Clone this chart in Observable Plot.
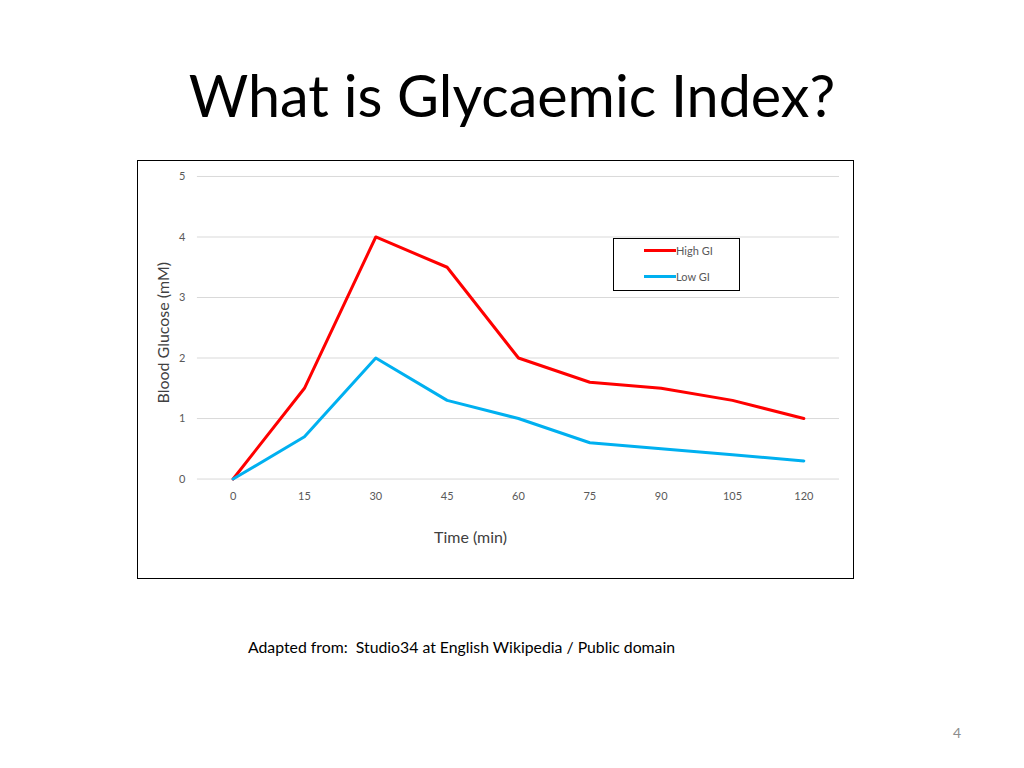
<!DOCTYPE html>
<html><head><meta charset="utf-8">
<script src="https://cdn.jsdelivr.net/npm/d3@7"></script>
<script src="https://cdn.jsdelivr.net/npm/@observablehq/plot@0.6"></script>
<style>
body{margin:0;background:#fff;font-family:Lato,"Open Sans",sans-serif;}
#page{position:relative;width:1024px;height:768px;overflow:hidden;}
#title{position:absolute;left:0;width:1024px;top:66px;text-align:center;font-size:57.5px;color:#000;line-height:1;}
#box{position:absolute;left:137px;top:160px;width:715px;height:417px;border:1px solid #000;}
#chart{position:absolute;left:-1px;top:-1px;}
#legend{position:absolute;left:475px;top:77px;width:125px;height:51px;border:1px solid #000;font-size:11px;color:#595959;}
.li{position:absolute;left:30px;height:12px;display:flex;align-items:center;}
.li span.sw{display:inline-block;width:32px;height:3px;margin-right:0px;}
#caption{position:absolute;left:248px;top:637px;font-size:15.8px;color:#000;}
#pnum{position:absolute;left:953px;top:724px;font-size:14px;color:#8c8c8c;}
</style></head>
<body><div id="page">
<div id="title">What is Glycaemic Index?</div>
<div id="box"><div id="chart"></div>
<div id="legend"></div></div>
<div id="caption">Adapted from:&nbsp; Studio34 at English Wikipedia / Public domain</div>
<div id="pnum">4</div>
</div>
<script>
const times = [0, 15, 30, 45, 60, 75, 90, 105, 120];
const highGI = [0, 1.5, 4, 3.5, 2, 1.6, 1.5, 1.3, 1.0];
const lowGI = [0, 0.7, 2, 1.3, 1.0, 0.6, 0.5, 0.4, 0.3];
const seriesNames = ["High GI", "Low GI"];
const seriesColors = ["#ff0000", "#00b0f0"];
const yTicks = [0, 1, 2, 3, 4, 5];

const data = [];
times.forEach((t, i) => data.push({time: t, value: highGI[i], series: seriesNames[0]}));
times.forEach((t, i) => data.push({time: t, value: lowGI[i], series: seriesNames[1]}));

const chart = Plot.plot({
  width: 717, height: 419,
  marginLeft: 60, marginRight: 14, marginTop: 16, marginBottom: 100,
  style: {fontFamily: "Lato, 'Open Sans', sans-serif", fontSize: "11px", color: "#595959", background: "transparent"},
  x: {type: "linear", domain: [-7.5, 127.5]},
  y: {domain: [0, 5]},
  color: {domain: seriesNames, range: seriesColors},
  marks: [
    Plot.gridY(yTicks, {stroke: "#d9d9d9", strokeOpacity: 1, strokeWidth: 1}),
    Plot.axisX({ticks: times, tickSize: 0, tickPadding: 13, label: null, fill: "#595959", tickFormat: d => String(d)}),
    Plot.axisY({ticks: yTicks, tickSize: 0, tickPadding: 12, label: null, fill: "#595959", tickFormat: d => String(d)}),
    Plot.line(data, {x: "time", y: "value", z: "series", stroke: "series", strokeWidth: 3, strokeLinejoin: "round"}),
    Plot.text(["Time (min)"], {frameAnchor: "bottom", dx: -48, dy: 64, fontSize: 16, fill: "#404040"}),
    Plot.text(["Blood Glucose (mM)"], {frameAnchor: "left", textAnchor: "middle", dx: -34, dy: 5, rotate: -90, fontSize: 16, fill: "#404040"})
  ]
});
document.getElementById("chart").appendChild(chart);

const legend = document.getElementById("legend");
seriesNames.forEach((n, i) => {
  const d = document.createElement("div");
  d.className = "li";
  d.style.top = (5 + i * 26) + "px";
  const sw = document.createElement("span");
  sw.className = "sw";
  sw.style.background = seriesColors[i];
  d.appendChild(sw);
  d.appendChild(document.createTextNode(n));
  legend.appendChild(d);
});
</script>
</body></html>
